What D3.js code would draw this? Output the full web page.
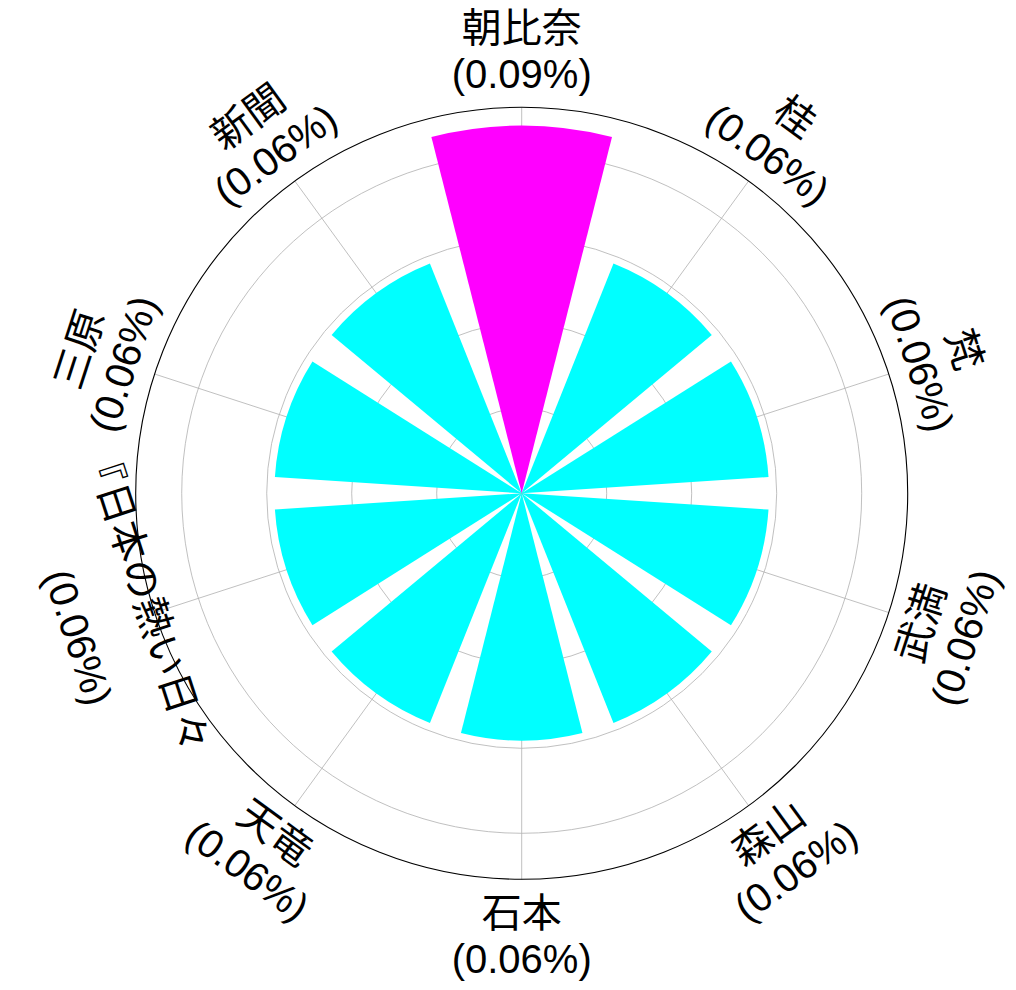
<!DOCTYPE html>
<html>
<head>
<meta charset="utf-8">
<script src="https://cdn.jsdelivr.net/npm/d3@7"></script>
<style>
  html, body { margin: 0; padding: 0; background: #ffffff; }
  svg { display: block; }
</style>
</head>
<body>
<svg id="chart" width="1016" height="990"></svg>
<script>
// ---- data ----
const categories = ["朝比奈", "桂", "梵", "武満", "森山", "石本", "天竜", "『日本の熱い日々", "三原", "新聞"];
const values = [0.0865, 0.0582, 0.0582, 0.0582, 0.0582, 0.0582, 0.0582, 0.0582, 0.0582, 0.0582]; // percent
const barColors = ["#ff00ff", "#00ffff", "#00ffff", "#00ffff", "#00ffff", "#00ffff", "#00ffff", "#00ffff", "#00ffff", "#00ffff"];
const radialTicks = [0.02, 0.04, 0.06, 0.08];

// ---- layout ----
const W = 1016, H = 990;
const cx = 521.7, cy = 493.3;
const outerR = 386;
const labelR = 442.5;
const fontSize = 40;
const lineGap = 46.5;
const n = categories.length;
// layout tweak (text-local px) for the long first line, as rendered in the reference
const nameNudge = { "『日本の熱い日々": [-16, -31] };

const svg = d3.select("#chart");
const g = svg.append("g").attr("transform", `translate(${cx},${cy})`);

const rMax = d3.max(values) * 1.05;
const r = d3.scaleLinear().domain([0, rMax]).range([0, outerR]);
const theta = d3.scalePoint().domain(categories).range([0, 2 * Math.PI * (n - 1) / n]);
const step = 2 * Math.PI / n;
const half = step * 0.79 / 2;

// radial grid circles
g.append("g").selectAll("circle").data(radialTicks).join("circle")
  .attr("r", d => r(d))
  .attr("fill", "none")
  .attr("stroke", "#b0b0b0")
  .attr("stroke-width", 0.8);

// angular grid lines
g.append("g").selectAll("line").data(categories).join("line")
  .attr("x1", 0).attr("y1", 0)
  .attr("x2", d => r(rMax) * Math.sin(theta(d)))
  .attr("y2", d => -r(rMax) * Math.cos(theta(d)))
  .attr("stroke", "#b0b0b0")
  .attr("stroke-width", 0.8);

// bars
const arc = d3.arc()
  .innerRadius(0)
  .outerRadius(d => r(d.v))
  .startAngle(d => theta(d.c) - half)
  .endAngle(d => theta(d.c) + half);

g.append("g").selectAll("path")
  .data(categories.map((c, i) => ({ c, v: values[i], col: barColors[i] })))
  .join("path")
  .attr("d", arc)
  .attr("fill", d => d.col);

// outer circle
g.append("circle")
  .attr("r", r(rMax))
  .attr("fill", "none")
  .attr("stroke", "#000000")
  .attr("stroke-width", 1.1);

// labels
const fmt = d3.format(".2f");
const labels = g.append("g")
  .attr("font-family", "'Liberation Sans', Arial, 'Noto Sans CJK JP', sans-serif")
  .attr("font-size", fontSize)
  .attr("fill", "#000000")
  .selectAll("g")
  .data(categories.map((c, i) => ({ c, v: values[i] })))
  .join("g")
  .attr("transform", d => {
    const a = theta(d.c);
    const deg = a * 180 / Math.PI;
    let rot = deg;
    if (deg > 90 && deg < 270) rot = deg - 180;
    else if (deg >= 270) rot = deg - 360;
    const x = labelR * Math.sin(a), y = -labelR * Math.cos(a);
    return `translate(${x},${y}) rotate(${rot})`;
  });

labels.append("text")
  .attr("text-anchor", "middle")
  .attr("x", d => (nameNudge[d.c] || [0, 0])[0])
  .attr("y", d => -lineGap / 2 + (nameNudge[d.c] || [0, 0])[1])
  .attr("dy", "0.36em")
  .text(d => d.c);

labels.append("text")
  .attr("text-anchor", "middle")
  .attr("y", lineGap / 2)
  .attr("dy", "0.36em")
  .text(d => `(${fmt(d.v)}%)`);
</script>
</body>
</html>
